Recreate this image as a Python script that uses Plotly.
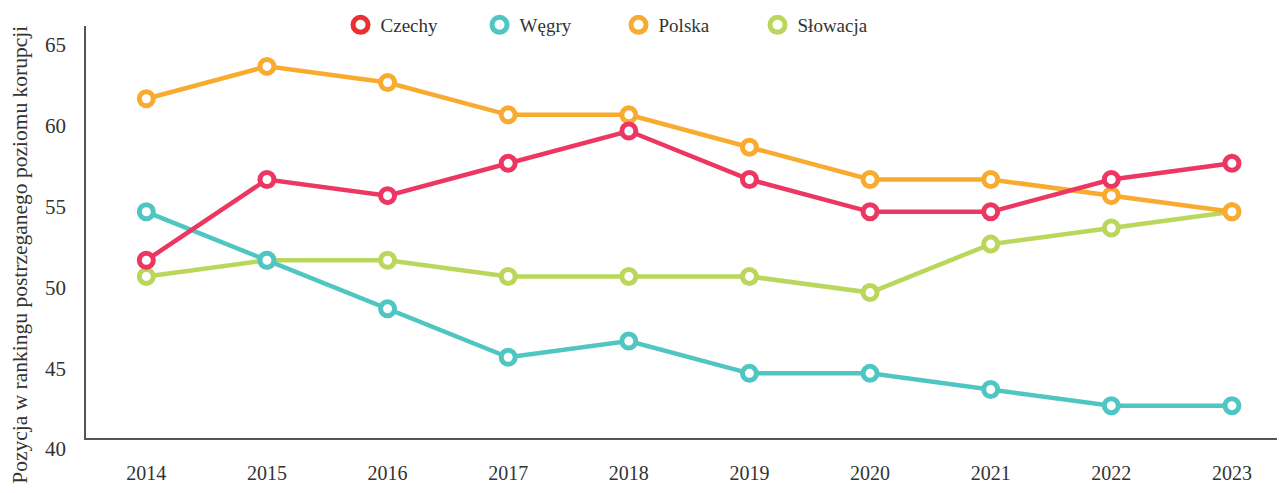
import plotly.graph_objects as go

years = ["2014", "2015", "2016", "2017", "2018", "2019", "2020", "2021", "2022", "2023"]
czechy = [51, 56, 55, 57, 59, 56, 54, 54, 56, 57]
wegry = [54, 51, 48, 45, 46, 44, 44, 43, 42, 42]
polska = [61, 63, 62, 60, 60, 58, 56, 56, 55, 54]
slowacja = [50, 51, 51, 50, 50, 50, 49, 52, 53, 54]
y_ticks = [40, 45, 50, 55, 60, 65]

names = ["Czechy", "Węgry", "Polska", "Słowacja"]
line_colors = {"Czechy": "#ec3762", "Węgry": "#4fc6c2", "Polska": "#f8ab2e", "Słowacja": "#bad75c"}
legend_colors = {"Czechy": "#ec2f2f", "Węgry": "#4fc6c2", "Polska": "#f8ab2e", "Słowacja": "#bad75c"}
series = {"Czechy": czechy, "Węgry": wegry, "Polska": polska, "Słowacja": slowacja}

FONT = "Liberation Serif"
x_idx = list(range(len(years)))

fig = go.Figure()
# drawing order: green, teal, orange, red on top
for name in ["Słowacja", "Węgry", "Polska", "Czechy"]:
    fig.add_trace(go.Scatter(
        x=x_idx, y=series[name], mode="lines+markers", name=name, showlegend=False,
        line=dict(color=line_colors[name], width=4.5),
        marker=dict(size=14, color="white", line=dict(color=line_colors[name], width=5)),
        hoverinfo="x+y+name",
    ))
for i, name in enumerate(names):
    fig.add_trace(go.Scatter(
        x=[None], y=[None], mode="markers", name=name, legendrank=i + 1,
        marker=dict(size=15, color="white", line=dict(color=legend_colors[name], width=5)),
    ))

# page body has an 8px default margin, so the figure is sized 8px smaller
fig.update_layout(
    width=1277, height=485,
    margin=dict(l=78, r=0, t=18, b=55, autoexpand=False),
    paper_bgcolor="white", plot_bgcolor="white",
    font=dict(family=FONT, color="#333333", size=18),
    showlegend=True,
    legend=dict(orientation="h", xref="container", yref="container",
                x=0.2604, y=0.965, xanchor="left", yanchor="middle",
                entrywidth=94, entrywidthmode="pixels",
                font=dict(family=FONT, size=19, color="#333333"),
                itemwidth=30, traceorder="normal"),
    xaxis=dict(range=[-0.5, 9.44], tickmode="array", tickvals=x_idx, ticktext=years,
               showgrid=False, zeroline=False, showline=True, linecolor="#555555", linewidth=1.5,
               ticks="", ticklabelstandoff=16, tickfont=dict(size=20, color="#333333")),
    yaxis=dict(range=[40, 65.5], tickmode="array", tickvals=y_ticks,
               showgrid=False, zeroline=False, showline=True, linecolor="#555555", linewidth=1.5,
               ticks="", ticklabelstandoff=14, ticklabelshift=11,
               tickfont=dict(size=21, color="#333333")),
    annotations=[dict(text="Pozycja w rankingu postrzeganego poziomu korupcji",
                      xref="paper", yref="paper", x=-0.055, y=0.445, xanchor="center", yanchor="middle",
                      textangle=-90, showarrow=False,
                      font=dict(family=FONT, size=21.5, color="#333333"))],
)

fig.write_html("out.html")
